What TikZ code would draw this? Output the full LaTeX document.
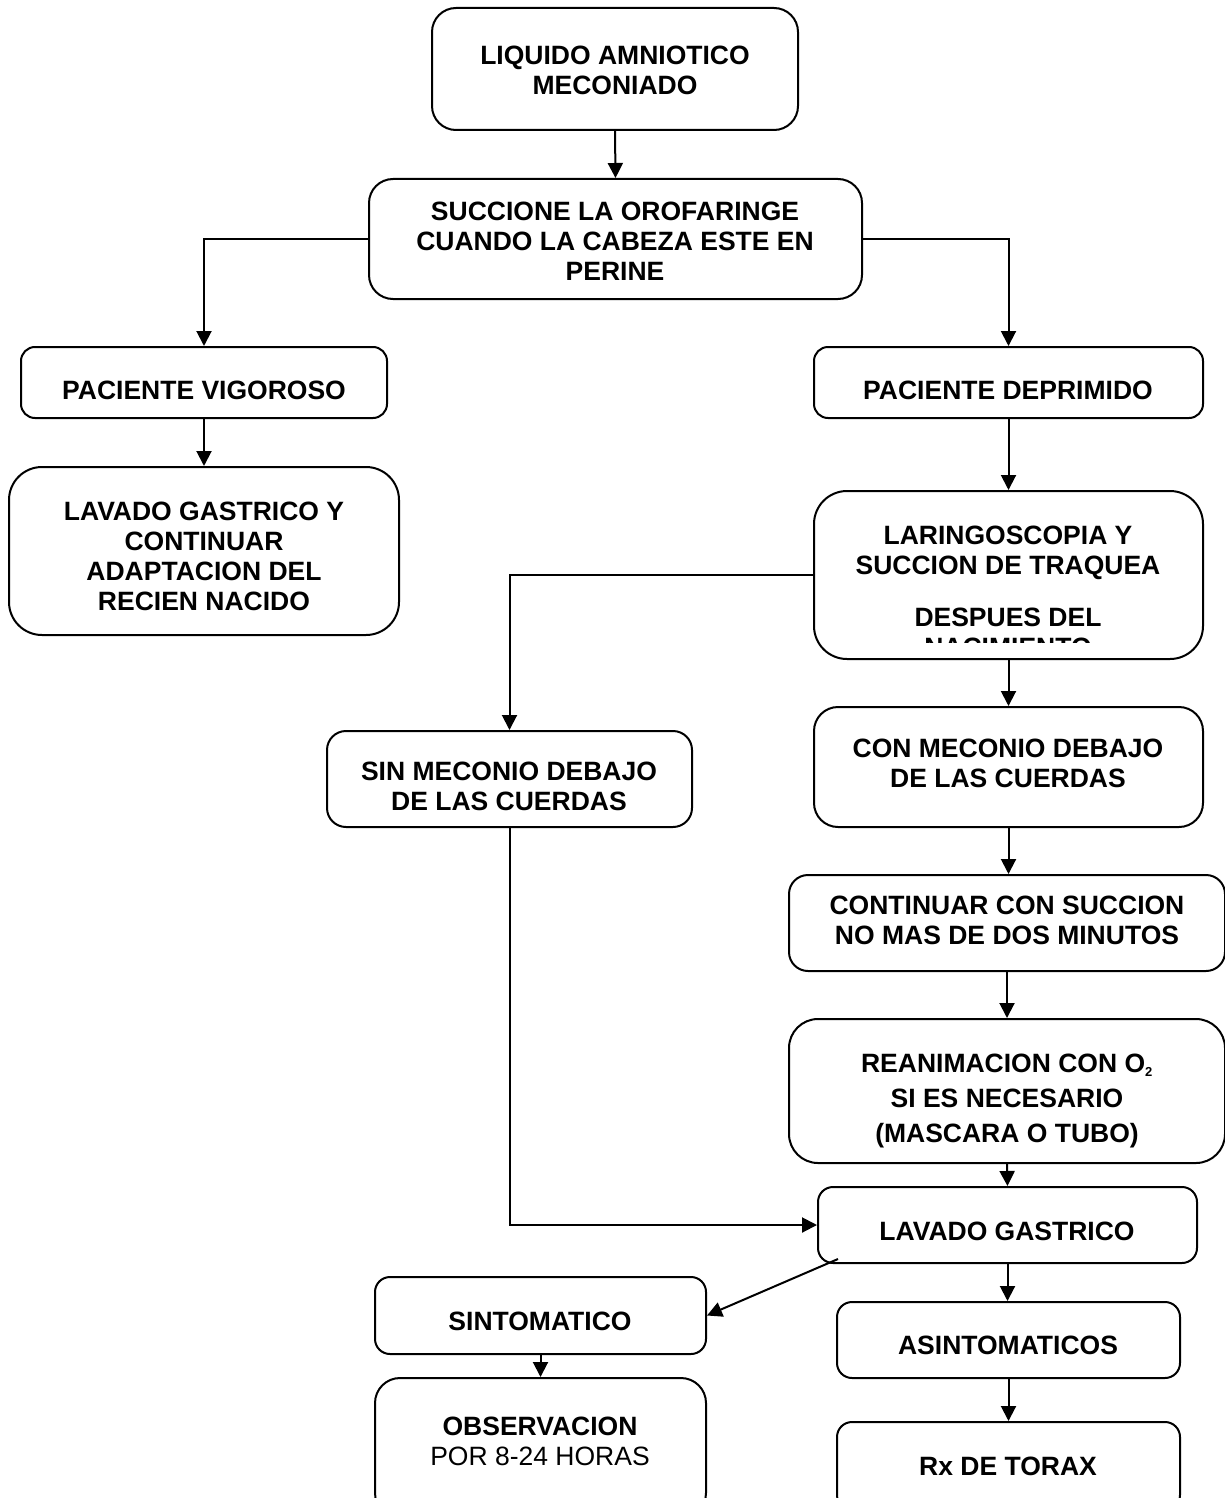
\documentclass[tikz,border=0pt]{standalone}
\usepackage{fontspec}
\setmainfont{Liberation Sans}
\usetikzlibrary{arrows.meta}
\tikzset{
  box/.style={draw, line width=2pt, inner sep=0pt},
  txt/.style={font=\bfseries\fontsize{26.5}{30}\selectfont, align=center, inner sep=0pt},
  arr/.style={line width=2pt, -{Triangle[length=15pt,width=15pt]}},
}
\begin{document}
\begin{tikzpicture}[x=1pt,y=-1pt]
\useasboundingbox (0,0) rectangle (1225,1498);
% boxes
\node[box, rounded corners=24, minimum width=366, minimum height=122] (b1) at (615,69) {};
\node[box, rounded corners=24, minimum width=493, minimum height=120] (b2) at (615.5,239) {};
\node[box, rounded corners=14, minimum width=366, minimum height=71] (b3) at (204,382.5) {};
\node[box, rounded corners=33, minimum width=390, minimum height=168] (b4) at (204,551) {};
\node[box, rounded corners=14, minimum width=389, minimum height=71] (b5) at (1008.5,382.5) {};
\node[box, rounded corners=33, minimum width=389, minimum height=168] (b6) at (1008.5,575) {};
\node[box, rounded corners=19, minimum width=365, minimum height=96] (b7) at (509.5,779) {};
\node[box, rounded corners=24, minimum width=389, minimum height=120] (b8) at (1008.5,767) {};
\node[box, rounded corners=19, minimum width=436, minimum height=96] (b9) at (1007,923) {};
\node[box, rounded corners=29, minimum width=436, minimum height=144] (b10) at (1007,1091) {};
\node[box, rounded corners=15, minimum width=379, minimum height=76] (b11) at (1007.5,1225) {};
\node[box, rounded corners=15, minimum width=331, minimum height=77] (b12) at (540.5,1315.5) {};
\node[box, rounded corners=25, minimum width=331, minimum height=140] (b13) at (540.5,1448) {};
\node[box, rounded corners=15, minimum width=343, minimum height=76] (b14) at (1008.5,1340) {};
\node[box, rounded corners=15, minimum width=343, minimum height=88] (b15) at (1008.5,1466) {};
% texts
\node[txt] (t1) at (615,70) {LIQUIDO AMNIOTICO\\MECONIADO};
\node[txt] (t2) at (615,241) {SUCCIONE LA OROFARINGE\\CUANDO LA CABEZA ESTE EN\\PERINE};
\node[txt] (t3) at (204,390) {PACIENTE VIGOROSO};
\node[txt] (t4) at (204,556) {LAVADO GASTRICO Y\\CONTINUAR\\ADAPTACION DEL\\RECIEN NACIDO};
\node[txt] (t5) at (1008,390) {PACIENTE DEPRIMIDO};
\begin{scope}
  \clip (814,491) rectangle (1203,642);
  \node[txt] (t6) at (1008,591) {LARINGOSCOPIA Y\\SUCCION DE TRAQUEA\\[22pt]DESPUES DEL\\NACIMIENTO};
\end{scope}
\node[txt] (t7) at (509,786) {SIN MECONIO DEBAJO\\DE LAS CUERDAS};
\node[txt] (t8) at (1008,763) {CON MECONIO DEBAJO\\DE LAS CUERDAS};
\node[txt] (t9) at (1007,920) {CONTINUAR CON SUCCION\\NO MAS DE DOS MINUTOS};
\node[txt, font=\bfseries\fontsize{26.5}{35}\selectfont] (t10) at (1007,1101) {REANIMACION CON O\textsubscript{\fontsize{13}{13}\selectfont 2}\\SI ES NECESARIO\\(MASCARA O TUBO)};
\node[txt] (t11) at (1007,1231) {LAVADO GASTRICO};
\node[txt] (t12) at (540,1321) {SINTOMATICO};
\node[txt] (t13) at (540,1441) {OBSERVACION\\{\normalfont\fontsize{26.5}{30}\selectfont POR 8-24 HORAS}};
\node[txt] (t14) at (1008,1345) {ASINTOMATICOS};
\node[txt] (t15) at (1008,1466) {Rx DE TORAX};
% connectors
\coordinate (d1) at (838,1259);
\draw[arr] (b1.south) -- (b2.north);
\draw[arr] (b2.west) -| (b3.north);
\draw[arr] (b2.east) -| (b5.north);
\draw[arr] (b3.south) -- (b4.north);
\draw[arr] (b5.south) -- (b6.north);
\draw[arr] (b6.west) -| (b7.north);
\draw[arr] (b6.south) -- (b8.north);
\draw[arr] (b8.south) -- (b8.south |- b9.north);
\draw[arr] (b9.south) -- (b10.north);
\draw[arr] (b10.south) -- (b11.north);
\draw[arr] (b7.south) |- (b11.west);
\draw[arr] (d1) -- (b12.east);
\draw[arr] (b11.south) -- (b11.south |- b14.north);
\draw[arr] (b14.south) -- (b15.north);
\draw[arr] (b12.south) -- (b13.north);
\end{tikzpicture}
\end{document}
